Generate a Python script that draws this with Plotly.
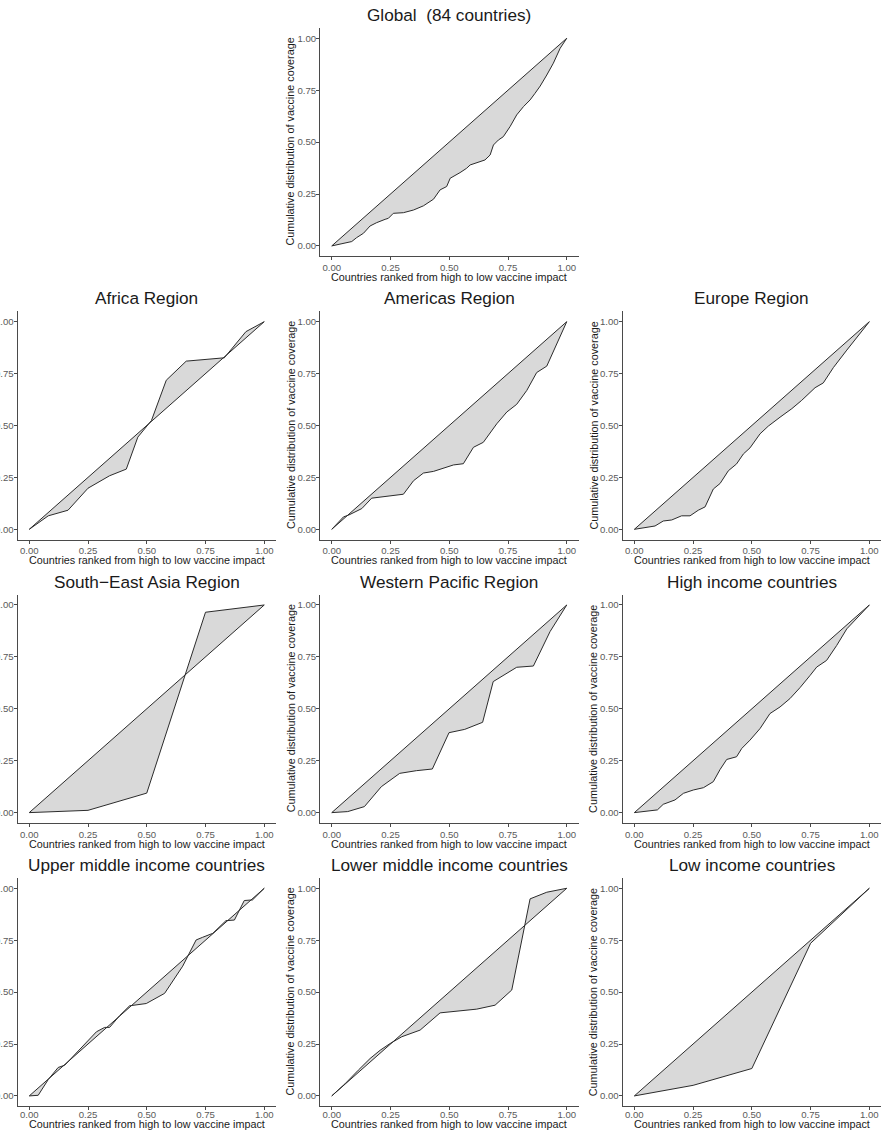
import plotly.graph_objects as go

# Tick positions and labels shared by every panel
tick_vals = [0, 0.25, 0.5, 0.75, 1]
tick_text = ["0.00", "0.25", "0.50", "0.75", "1.00"]

x_title = "Countries ranked from high to low vaccine impact"
y_title = "Cumulative distribution of vaccine coverage"

# Cumulative coverage curves (x: share of countries, y: cumulative share of coverage)
global_x = [0, 0.085, 0.106, 0.135, 0.163, 0.191, 0.227, 0.241, 0.262, 0.305, 0.348, 0.390,
            0.433, 0.461, 0.489, 0.504, 0.546, 0.574, 0.589, 0.617, 0.652, 0.674, 0.688,
            0.709, 0.730, 0.759, 0.787, 0.816, 0.844, 0.865, 0.887, 0.915, 0.943, 0.972, 1]
global_y = [0, 0.021, 0.040, 0.061, 0.096, 0.112, 0.128, 0.133, 0.157, 0.160, 0.173, 0.193,
            0.225, 0.270, 0.286, 0.326, 0.353, 0.374, 0.390, 0.401, 0.414, 0.438, 0.486,
            0.510, 0.526, 0.575, 0.631, 0.671, 0.703, 0.735, 0.770, 0.823, 0.880, 0.952, 1]

africa_x = [0, 0.081, 0.165, 0.25, 0.342, 0.413, 0.462, 0.52, 0.583, 0.668, 0.83, 0.922, 1]
africa_y = [0, 0.065, 0.092, 0.198, 0.258, 0.29, 0.444, 0.524, 0.718, 0.81, 0.826, 0.952, 1]

americas_x = [0, 0.050, 0.071, 0.128, 0.170, 0.213, 0.305, 0.348, 0.390, 0.433, 0.518,
              0.560, 0.603, 0.645, 0.702, 0.745, 0.787, 0.830, 0.872, 0.915, 1]
americas_y = [0, 0.060, 0.068, 0.100, 0.150, 0.156, 0.169, 0.234, 0.271, 0.279, 0.310,
              0.316, 0.395, 0.419, 0.508, 0.565, 0.602, 0.669, 0.755, 0.786, 1]

europe_x = [0, 0.045, 0.088, 0.123, 0.159, 0.201, 0.237, 0.272, 0.301, 0.336, 0.365, 0.40,
            0.435, 0.464, 0.492, 0.535, 0.570, 0.62, 0.67, 0.712, 0.769, 0.804, 0.847, 0.904, 1]
europe_y = [0, 0.008, 0.016, 0.040, 0.045, 0.065, 0.065, 0.092, 0.108, 0.194, 0.221, 0.282,
            0.315, 0.363, 0.392, 0.460, 0.497, 0.540, 0.581, 0.621, 0.682, 0.705, 0.779, 0.863, 1]

sea_x = [0, 0.25, 0.5, 0.75, 1]
sea_y = [0, 0.011, 0.094, 0.965, 1]

wpac_x = [0, 0.068, 0.139, 0.211, 0.289, 0.360, 0.428, 0.499, 0.566, 0.642, 0.687, 0.787,
          0.858, 0.929, 1]
wpac_y = [0, 0.005, 0.029, 0.125, 0.189, 0.202, 0.210, 0.385, 0.401, 0.435, 0.631, 0.700,
          0.706, 0.872, 1]

high_x = [0, 0.052, 0.098, 0.123, 0.173, 0.209, 0.251, 0.294, 0.336, 0.365, 0.393, 0.435,
          0.457, 0.492, 0.535, 0.577, 0.62, 0.662, 0.705, 0.748, 0.776, 0.818, 0.861, 0.904, 1]
high_y = [0, 0.005, 0.013, 0.040, 0.061, 0.093, 0.109, 0.120, 0.149, 0.208, 0.256, 0.269,
          0.309, 0.349, 0.405, 0.477, 0.509, 0.549, 0.602, 0.661, 0.701, 0.733, 0.805, 0.885, 1]

upper_x = [0, 0.038, 0.081, 0.123, 0.151, 0.201, 0.243, 0.286, 0.321, 0.342, 0.385, 0.427,
           0.498, 0.576, 0.653, 0.710, 0.738, 0.781, 0.837, 0.873, 0.915, 0.950, 1]
upper_y = [0, 0.003, 0.079, 0.137, 0.148, 0.207, 0.260, 0.309, 0.330, 0.330, 0.387, 0.434,
           0.445, 0.494, 0.625, 0.751, 0.764, 0.783, 0.844, 0.847, 0.941, 0.944, 1]

lower_x = [0, 0.057, 0.113, 0.163, 0.206, 0.248, 0.298, 0.376, 0.461, 0.617, 0.695, 0.766,
           0.844, 0.915, 1]
lower_y = [0, 0.059, 0.124, 0.180, 0.220, 0.252, 0.285, 0.317, 0.400, 0.418, 0.437, 0.510,
           0.949, 0.981, 1]

low_x = [0, 0.25, 0.5, 0.75, 1]
low_y = [0, 0.051, 0.132, 0.735, 1]

# Line of equality
equal_x = [0, 1]
equal_y = [0, 1]

panel_titles = [
    "Global \u00a0(84 countries)", "Africa Region", "Americas Region", "Europe Region",
    "South\u2212East Asia Region", "Western Pacific Region", "High income countries",
    "Upper middle income countries", "Lower middle income countries", "Low income countries",
]
panel_series = [
    (global_x, global_y), (africa_x, africa_y), (americas_x, americas_y), (europe_x, europe_y),
    (sea_x, sea_y), (wpac_x, wpac_y), (high_x, high_y),
    (upper_x, upper_y), (lower_x, lower_y), (low_x, low_y),
]
# grid cell (row, column) of each panel
panel_cells = [(0, 1), (1, 0), (1, 1), (1, 2), (2, 0), (2, 1), (2, 2), (3, 0), (3, 1), (3, 2)]

W, H = 884, 1131
col_left = [17.5, 320.0, 622.6]
row_top = [27.9, 311.3, 594.6, 877.9]
panel_w = 258.5
panel_h = 228.4

line_col = "#2b2b2b"
fill_col = "#d9d9d9"
axis_col = "#4a4a4a"
font_family = "Liberation Sans, Arial, sans-serif"
tick_font = dict(family=font_family, size=9.6, color="#5a5a5a")
label_font = dict(family=font_family, size=10.8, color="#1a1a1a")
title_font = dict(family=font_family, size=17.2, color="#1a1a1a")

fig = go.Figure()
layout = dict(
    width=W, height=H, margin=dict(l=0, r=0, t=0, b=0, autoexpand=False),
    paper_bgcolor="white", plot_bgcolor="white", showlegend=False,
)
annotations = []

for i, (title, (xs, ys), (r, c)) in enumerate(zip(panel_titles, panel_series, panel_cells)):
    k = "" if i == 0 else str(i + 1)
    xa, ya = "x" + k, "y" + k
    left, top = col_left[c], row_top[r]
    right, bottom = left + panel_w, top + panel_h
    last_row = r == len(row_top) - 1

    fig.add_trace(go.Scatter(x=equal_x, y=equal_y, mode="lines", xaxis=xa, yaxis=ya,
                             line=dict(color=line_col, width=1), hoverinfo="skip"))
    fig.add_trace(go.Scatter(x=xs, y=ys, mode="lines", xaxis=xa, yaxis=ya,
                             fill="tonexty", fillcolor=fill_col,
                             line=dict(color=line_col, width=1), hoverinfo="skip"))

    common = dict(range=[-0.05, 1.05], tickvals=tick_vals, ticktext=tick_text,
                  showgrid=False, zeroline=False, showline=True, linecolor=axis_col,
                  linewidth=1, ticks="outside", ticklen=3, tickcolor=axis_col,
                  tickwidth=1, tickfont=tick_font, fixedrange=True, automargin=False)
    layout["xaxis" + k] = dict(common, domain=[left / W, right / W], anchor=ya,
                               ticklabelstandoff=-4 if last_row else -1)
    layout["yaxis" + k] = dict(common, domain=[1 - bottom / H, 1 - top / H], anchor=xa,
                               ticklabelstandoff=-2)

    cx = (left + right) / 2
    annotations.append(dict(text=title, x=cx / W, y=1 - (top - 13) / H, xref="paper",
                            yref="paper", showarrow=False, xanchor="center",
                            yanchor="middle", font=title_font, borderpad=0))
    # horizontal axis title; the bottom row rests on the page edge
    if last_row:
        xt_y, xt_anchor = 0, "bottom"
    else:
        xt_y, xt_anchor = 1 - (bottom + 20.5) / H, "middle"
    annotations.append(dict(text=x_title, x=cx / W, y=xt_y, xref="paper",
                            yref="paper", showarrow=False, xanchor="center",
                            yanchor=xt_anchor, font=label_font, borderpad=0))
    # the left column's vertical titles sit beyond the page edge, so only the
    # middle and right columns carry one
    if c > 0:
        annotations.append(dict(text=y_title, x=(left - 29.5) / W,
                                y=1 - (top + bottom) / 2 / H, xref="paper", yref="paper",
                                showarrow=False, xanchor="center", yanchor="middle",
                                textangle=-90, font=label_font, borderpad=0))

layout["annotations"] = annotations
fig.update_layout(**layout)
fig.write_html("out.html")
